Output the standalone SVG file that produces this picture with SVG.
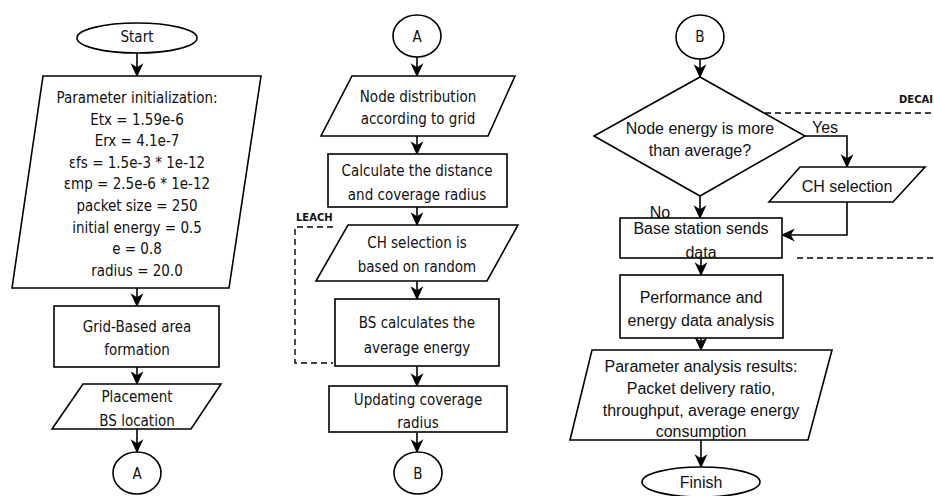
<svg xmlns="http://www.w3.org/2000/svg" width="934" height="496" viewBox="0 0 934 496">
<style>
.s{fill:#fff;stroke:#000;stroke-width:1.6}
.t{font-family:"DejaVu Sans Condensed","DejaVu Sans",sans-serif;font-stretch:condensed;font-size:15px;fill:#111;text-anchor:middle;dominant-baseline:central}
.r{font-family:"Liberation Sans",Arial,sans-serif;font-size:16px;fill:#111;text-anchor:middle;dominant-baseline:central}
.c{fill:none;stroke:#000;stroke-width:1.6}
.d{fill:none;stroke:#000;stroke-width:1.4;stroke-dasharray:6,4}
.b{font-family:"DejaVu Sans",sans-serif;font-weight:bold;font-size:10px;fill:#111;dominant-baseline:central}
</style>
<defs>
<marker id="ar" markerUnits="userSpaceOnUse" markerWidth="14" markerHeight="14" viewBox="0 0 12 12" refX="11" refY="6" orient="auto">
<path d="M0,0.5 L12,6 L0,11.5 L3.5,6 z" fill="#000"/>
</marker>
</defs>
<rect width="934" height="496" fill="#fff"/>
<g id="connectors">
<path class="c" d="M137,53V76" marker-end="url(#ar)"/>
<path class="c" d="M137,288V306" marker-end="url(#ar)"/>
<path class="c" d="M137,367V384" marker-end="url(#ar)"/>
<path class="c" d="M137,429V452" marker-end="url(#ar)"/>
<path class="c" d="M417,57V76" marker-end="url(#ar)"/>
<path class="c" d="M417,136V154" marker-end="url(#ar)"/>
<path class="c" d="M417,207V225" marker-end="url(#ar)"/>
<path class="c" d="M417,281V299" marker-end="url(#ar)"/>
<path class="c" d="M417,366V386" marker-end="url(#ar)"/>
<path class="c" d="M417,432V452" marker-end="url(#ar)"/>
<path class="c" d="M700,59V77" marker-end="url(#ar)"/>
<path class="c" d="M700,196V218" marker-end="url(#ar)"/>
<path class="c" d="M805,136H847V167" marker-end="url(#ar)"/>
<path class="c" d="M847,202V235H782" marker-end="url(#ar)"/>
<path class="c" d="M701,258V275" marker-end="url(#ar)"/>
<path class="c" d="M701,338V350" marker-end="url(#ar)"/>
<path class="c" d="M701,440V467" marker-end="url(#ar)"/>
<text class="r" x="825" y="127">Yes</text>
<text class="r" x="660" y="212">No</text>
</g>
<g id="leach">
<path class="d" d="M333,227H295V363H333"/>
<text class="b" x="296" y="217">LEACH</text>
</g>
<g id="decai">
<path class="d" d="M765,113H934"/>
<path class="d" d="M797,258H934"/>
<text class="b" x="899" y="99">DECAI</text>
</g>
<g id="start">
<ellipse class="s" cx="137" cy="38" rx="60" ry="15"/>
<text class="t" x="137" y="37">Start</text>
</g>
<g id="param-init">
<path class="s" d="M43,76H261L229,288H12Z"/>
<text class="t" x="137" y="98">Parameter initialization:</text>
<text class="t" x="137" y="119.6">Etx = 1.59e-6</text>
<text class="t" x="137" y="141.2">Erx = 4.1e-7</text>
<text class="t" x="137" y="162.8">εfs = 1.5e-3 * 1e-12</text>
<text class="t" x="137" y="184.4">εmp = 2.5e-6 * 1e-12</text>
<text class="t" x="137" y="206">packet size = 250</text>
<text class="t" x="137" y="227.6">initial energy = 0.5</text>
<text class="t" x="137" y="249.2">e = 0.8</text>
<text class="t" x="137" y="270.8">radius = 20.0</text>
</g>
<g id="grid-area">
<rect class="s" x="54" y="306" width="165" height="61"/>
<text class="t" x="137" y="327">Grid-Based area</text>
<text class="t" x="137" y="350">formation</text>
</g>
<g id="placement">
<path class="s" d="M83,384H221L191,429H52Z"/>
<text class="t" x="137" y="397">Placement</text>
<text class="t" x="137" y="421">BS location</text>
</g>
<g id="conn-a1">
<ellipse class="s" cx="137" cy="473" rx="24" ry="21"/>
<text class="t" x="137" y="474">A</text>
</g>
<g id="conn-a2">
<ellipse class="s" cx="417" cy="36" rx="24" ry="21"/>
<text class="t" x="417" y="37">A</text>
</g>
<g id="node-dist">
<path class="s" d="M352,76H515L488,136H321Z"/>
<text class="t" x="418" y="97">Node distribution</text>
<text class="t" x="418" y="119">according to grid</text>
</g>
<g id="calc-dist">
<rect class="s" x="328" y="154" width="179" height="53"/>
<text class="t" x="417" y="171">Calculate the distance</text>
<text class="t" x="417" y="195">and coverage radius</text>
</g>
<g id="ch-random">
<path class="s" d="M348,225H518L487,281H316Z"/>
<text class="t" x="417" y="243">CH selection is</text>
<text class="t" x="417" y="267">based on random</text>
</g>
<g id="bs-avg">
<rect class="s" x="335" y="299" width="164" height="67"/>
<text class="t" x="417" y="323">BS calculates the</text>
<text class="t" x="417" y="348">average energy</text>
</g>
<g id="update-radius">
<rect class="s" x="329" y="386" width="178" height="46"/>
<text class="t" x="418" y="400">Updating coverage</text>
<text class="t" x="418" y="423">radius</text>
</g>
<g id="conn-b1">
<ellipse class="s" cx="418" cy="473" rx="24" ry="21"/>
<text class="t" x="418" y="474">B</text>
</g>
<g id="conn-b2">
<ellipse class="s" cx="700" cy="37" rx="24" ry="22"/>
<text class="t" x="700" y="37">B</text>
</g>
<g id="decision">
<path class="s" d="M700,77L805,136L700,196L594,136Z"/>
<text class="r" x="700" y="128">Node energy is more</text>
<text class="r" x="700" y="150">than average?</text>
</g>
<g id="ch-selection">
<path class="s" d="M800,167H925L893,202H769Z"/>
<text class="r" x="847" y="186">CH selection</text>
</g>
<g id="bs-sends">
<rect class="s" x="620" y="218" width="162" height="40"/>
<text class="r" x="701" y="228">Base station sends</text>
<text class="r" x="701" y="252">data</text>
</g>
<g id="perf-analysis">
<rect class="s" x="620" y="275" width="163" height="63"/>
<text class="r" x="701" y="297">Performance and</text>
<text class="r" x="701" y="320">energy data analysis</text>
</g>
<g id="results">
<path class="s" d="M592,350H832L808,440H570Z"/>
<text class="r" x="701" y="366">Parameter analysis results:</text>
<text class="r" x="701" y="388">Packet delivery ratio,</text>
<text class="r" x="701" y="410">throughput, average energy</text>
<text class="r" x="701" y="431">consumption</text>
</g>
<g id="finish">
<ellipse class="s" cx="701" cy="482" rx="59" ry="15"/>
<text class="r" x="701" y="482">Finish</text>
</g>
</svg>
